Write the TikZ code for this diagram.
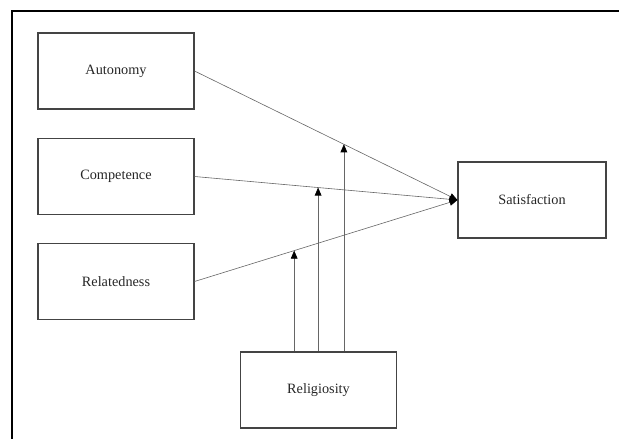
\documentclass[tikz,border=0pt]{standalone}
\usepackage{fontspec}
\setmainfont{Liberation Serif}
\usetikzlibrary{arrows.meta,positioning,calc}
\definecolor{boxgray}{HTML}{444444}
\definecolor{linegray}{HTML}{666666}

\begin{document}
\begin{tikzpicture}[x=0.75pt,y=-0.75pt,
    varbox/.style={draw=boxgray, line width=0.8pt, minimum width=117pt, minimum height=57pt,
        inner sep=0pt, font=\fontsize{10.7}{13}\selectfont, text=black!85},
    path/.style={draw=linegray, line width=0.45pt, -{Triangle[length=6pt,width=5pt,color=black]}}]
    \useasboundingbox (0,0) rectangle (619,439);
    % outer frame, top and left only
    \draw[line width=1.6pt] (12,439) -- (12,11) -- (619,11);

    % predictors
    \node[varbox] (auton) at (116,71) {Autonomy};
    \node[varbox] (compet) at (116,176.5) {Competence};
    \node[varbox] (relat) at (116,281.5) {Relatedness};
    \node[varbox, minimum width=111pt] (satis) at (532,200) {Satisfaction};
    \node[varbox] (relig) at (318.5,390) {Religiosity};

    % direct paths
    \draw[path] (auton.east) -- (satis.west);
    \draw[path] (compet.east) -- (satis.west);
    \draw[path] (relat.east) -- (satis.west);

    % moderation points on the paths
    \coordinate (m1) at ($(relat.east)!0.379!(satis.west)$);
    \coordinate (m2) at ($(compet.east)!0.47!(satis.west)$);
    \coordinate (m3) at ($(auton.east)!0.568!(satis.west)$);

    \draw[path] (relig.north -| m1) -- (m1);
    \draw[path] (relig.north -| m2) -- (m2);
    \draw[path] (relig.north -| m3) -- (m3);
\end{tikzpicture}
\end{document}
